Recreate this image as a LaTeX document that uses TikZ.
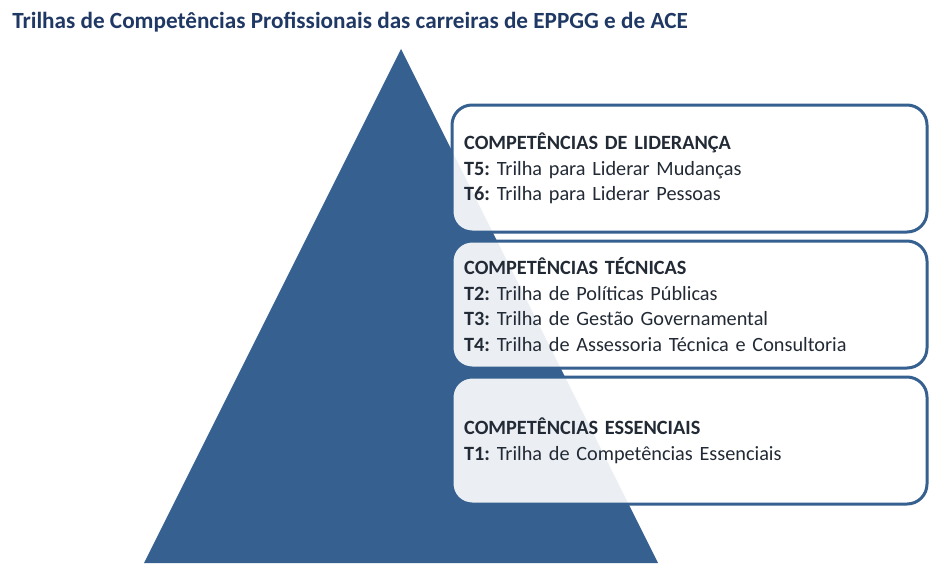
\documentclass[tikz,border=0pt]{standalone}
\usepackage{fontspec}
\setmainfont{Carlito}
\usetikzlibrary{positioning}
\definecolor{trilhablue}{HTML}{36608F}
\definecolor{titleblue}{HTML}{1F3864}
\definecolor{textgray}{HTML}{222A35}
\frenchspacing

\begin{document}
\begin{tikzpicture}[x=0.75pt,y=-0.75pt,
    trilha/.style={draw=trilhablue, line width=2.25pt, fill=white, fill opacity=.9, text opacity=1,
      rounded corners=15pt, minimum width=356.25pt, minimum height=95.25pt,
      text width=338pt, align=left, inner xsep=9pt, text=textgray,
      font=\fontsize{15.2}{19.3}\selectfont}]
\useasboundingbox (0,0) rectangle (948,567);
% title
\node[anchor=west, text=titleblue, font=\fontsize{17.4}{20}\selectfont\bfseries, inner sep=0pt] (titulo) at (12,22)
  {Trilhas de Competências Profissionais das carreiras de EPPGG e de ACE};
% pyramid
\fill[trilhablue] (401,49) -- (658,563) -- (144,563) -- cycle;
% the three tracks
\node[trilha] (lideranca) at (689.5,168.5) {\textbf{COMPETÊNCIAS DE LIDERANÇA}\\
  \textbf{T5:} Trilha para Liderar Mudanças\\
  \textbf{T6:} Trilha para Liderar Pessoas};
\node[trilha, below=4.5pt of lideranca] (tecnicas) {\textbf{COMPETÊNCIAS TÉCNICAS}\\
  \textbf{T2:} Trilha de Políticas Públicas\\
  \textbf{T3:} Trilha de Gestão Governamental\\
  \textbf{T4:} Trilha de Assessoria Técnica e Consultoria};
\node[trilha, below=4.5pt of tecnicas] (essenciais) {\textbf{COMPETÊNCIAS ESSENCIAIS}\\
  \textbf{T1:} Trilha de Competências Essenciais};
\end{tikzpicture}
\end{document}
